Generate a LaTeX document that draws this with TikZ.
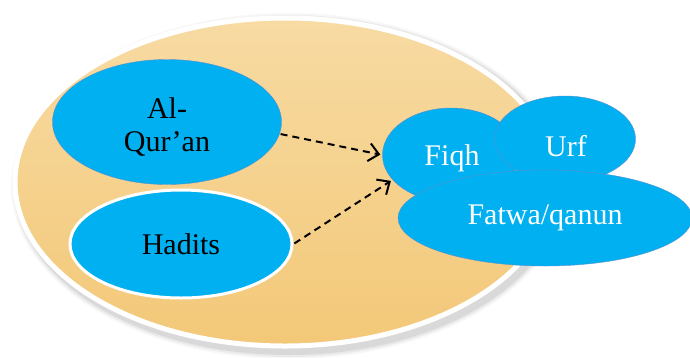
\documentclass[tikz,border=0pt]{standalone}
\usepackage{fontspec}
\setmainfont{Liberation Serif}
\usetikzlibrary{shapes.geometric,arrows.meta}
\definecolor{skyb}{HTML}{00B0F0}
\definecolor{rimb}{HTML}{5B8FD0}
\definecolor{goldt}{HTML}{F7DBA3}
\definecolor{goldb}{HTML}{F3C878}
\tikzset{
  blob/.style={ellipse, fill=skyb, draw=rimb, line width=0.4pt, inner sep=0pt, font=\fontsize{30}{34}\selectfont, align=center},
  darktext/.style={text=black},
  lighttext/.style={text=white},
  bigtext/.style={font=\fontsize{30}{33}\selectfont, align=center},
  flow/.style={draw=black, line width=2pt, dash pattern=on 7pt off 5pt, -{Straight Barb[length=10pt,width=18pt,line width=2pt]}, shorten >=2pt, shorten <=1pt}
}
\begin{document}
\begin{tikzpicture}[x=1pt,y=-1pt]
\useasboundingbox (0,0) rectangle (690,357);
% shadow of the big ellipse
\foreach \o/\a in {6/0.03,4/0.05,2/0.07}{
  \fill[black,opacity=\a] (289,186) ellipse ({272+\o} and {167+\o});
}
% big ellipse with white rim
\node[ellipse, minimum width=540pt, minimum height=328pt, inner sep=0pt,
      top color=goldt, bottom color=goldb, draw=white, line width=5pt] (base) at (285,182) {};
% source ellipses
\node[blob, darktext, minimum width=229pt, minimum height=125pt] (quran) at (167,122) {};
\node[darktext, bigtext] (qurant) at (167,127) {Al-\\Qur’an};
\node[blob, darktext, draw=white, line width=3pt, minimum width=222pt, minimum height=108pt] (hadits) at (181,244) {Hadits};
% target cluster
\node[blob, lighttext, minimum width=137pt, minimum height=94pt] (fiqh) at (451,155) {};
\node[lighttext, bigtext] (fiqht) at (452,158) {Fiqh};
\node[blob, lighttext, minimum width=141pt, minimum height=86pt] (urf) at (565,139) {};
\node[lighttext, bigtext] (urft) at (566,146) {Urf};
\node[blob, lighttext, minimum width=294pt, minimum height=96pt] (fatwa) at (545,218) {Fatwa/qanun};
% arrows
\draw[flow] (quran.-6) -- (fiqh.west);
\draw[flow] (hadits.east) -- (fiqh.203);
\end{tikzpicture}
\end{document}
